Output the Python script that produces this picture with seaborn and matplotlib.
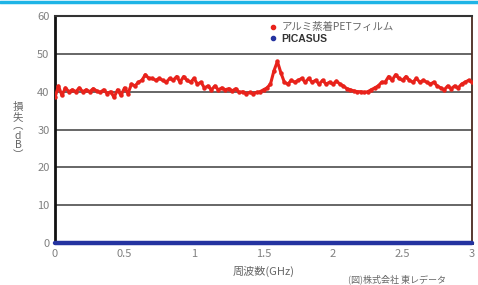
import numpy as np
import pandas as pd
import matplotlib
matplotlib.use("Agg")
import matplotlib.pyplot as plt
from matplotlib.lines import Line2D
import seaborn as sns

# frequency axis (GHz), 0.025 GHz step
freq = np.round(np.arange(0, 3.0001, 0.025), 3)

# aluminium-evaporated PET film loss (dB)
pet_loss = [
    38.5, 41.5, 39.0, 41.0, 40.0, 40.5, 40.0, 41.0, 40.0, 40.5,
    40.0, 40.8, 40.2, 39.8, 40.5, 39.5, 40.0, 38.5, 40.5, 39.0,
    41.0, 39.5, 42.0, 41.5, 42.5, 43.0, 44.5, 43.5, 43.5, 43.0,
    43.5, 43.0, 42.5, 43.5, 43.0, 44.0, 42.5, 44.0, 43.0, 42.5,
    43.5, 42.0, 42.5, 41.0, 41.5, 40.5, 41.5, 40.5, 41.0, 40.5,
    40.8, 40.2, 40.8, 39.8, 40.0, 39.5, 39.8, 39.5, 39.8, 40.0,
    40.5, 41.0, 42.0, 45.5, 48.0, 45.0, 42.5, 42.0, 43.0, 42.5,
    43.0, 43.5, 42.5, 43.5, 42.5, 43.0, 42.0, 43.0, 42.0, 42.5,
    42.0, 42.8, 42.0, 41.5, 40.8, 40.5, 40.2, 40.0, 40.0, 39.8,
    40.0, 40.5, 41.0, 41.5, 42.5, 42.5, 44.0, 43.0, 44.5, 43.5,
    43.0, 44.0, 43.0, 42.5, 43.5, 42.5, 43.0, 42.5, 42.0, 42.5,
    41.5, 41.0, 40.5, 41.5, 40.8, 41.5, 41.0, 42.0, 42.5, 43.0,
    42.5,
]
# PICASUS loss (dB)
picasus_loss = [0.0] * len(freq)

series_names = ["アルミ蒸着PETフィルム", "PICASUS"]
series_colors = ["#e8221b", "#2433a0"]

x_ticks = [0, 0.5, 1, 1.5, 2, 2.5, 3]
x_tick_labels = ["0", "0.5", "1", "1.5", "2", "2.5", "3"]
y_ticks = [0, 10, 20, 30, 40, 50, 60]

df = pd.DataFrame({
    "freq": np.concatenate([freq, freq]),
    "loss": np.concatenate([pet_loss, picasus_loss]),
    "series": [series_names[0]] * len(freq) + [series_names[1]] * len(freq),
})

sns.set_style("white")
plt.rcParams["font.family"] = ["Noto Sans CJK JP", "DejaVu Sans"]

fig = plt.figure(figsize=(4.78, 2.85), dpi=100)
ax = fig.add_axes([55 / 478, 1 - 243 / 285, 417 / 478, 227 / 285])

for ys in y_ticks[1:-1]:
    ax.axhline(ys, color="#5a5a5a", lw=1.3, zorder=1)

sns.lineplot(data=df[df.series == series_names[0]], x="freq", y="loss",
             color=series_colors[0], lw=2.2, marker="o", markersize=3.2,
             markeredgewidth=0, ax=ax, zorder=3, legend=False)
sns.lineplot(data=df[df.series == series_names[1]], x="freq", y="loss",
             color=series_colors[1], lw=3.2, ax=ax, zorder=4, legend=False,
             clip_on=False)

ax.set_xlim(0, 3)
ax.set_ylim(0, 60)
ax.set_xticks(x_ticks)
ax.set_xticklabels(x_tick_labels)
ax.set_yticks(y_ticks)
ax.tick_params(axis="both", length=0, labelsize=8, colors="#808080", pad=4)
ax.set_xlabel("周波数(GHz)", fontsize=8, color="#666666", labelpad=5)
ax.set_ylabel("")
fig.text(18 / 478, 1 - 131 / 285, "損\n失\n︵\nd\nB\n︶", fontsize=7.5,
         color="#666666", ha="center", va="center", linespacing=0.95)

for side in ["left", "bottom"]:
    ax.spines[side].set_color("#111111")
    ax.spines[side].set_linewidth(2)
ax.spines["top"].set_color("#333333")
ax.spines["top"].set_linewidth(1.5)
ax.spines["right"].set_color("#4a2a20")
ax.spines["right"].set_linewidth(1.3)

handles = [
    Line2D([], [], ls="", marker="o", markersize=3, color=series_colors[0]),
    Line2D([], [], ls="", marker="o", markersize=3, color=series_colors[1]),
]
leg = ax.legend(handles, series_names, loc="upper left",
                bbox_to_anchor=(208 / 417, 1.005), frameon=False,
                fontsize=7.5, handlelength=0.6, handletextpad=0.5,
                labelspacing=0.15, borderpad=0.2)
leg.get_texts()[0].set_color("#666666")
leg.get_texts()[1].set_color("#333333")
leg.get_texts()[1].set_fontweight("bold")
leg.get_texts()[1].set_family(["Liberation Sans", "DejaVu Sans"])

# cyan band at the top and the source note in the bottom-right corner
fig.add_artist(Line2D([0, 1], [1 - 1.5 / 285, 1 - 1.5 / 285], color="#1eb4e6",
                      lw=2.5, transform=fig.transFigure))
fig.text(348 / 478, 1 - 279 / 285, "(図)株式会社 東レデータ", fontsize=6.5,
         color="#666666", ha="left", va="center")

fig.savefig("out.png", dpi=100)
